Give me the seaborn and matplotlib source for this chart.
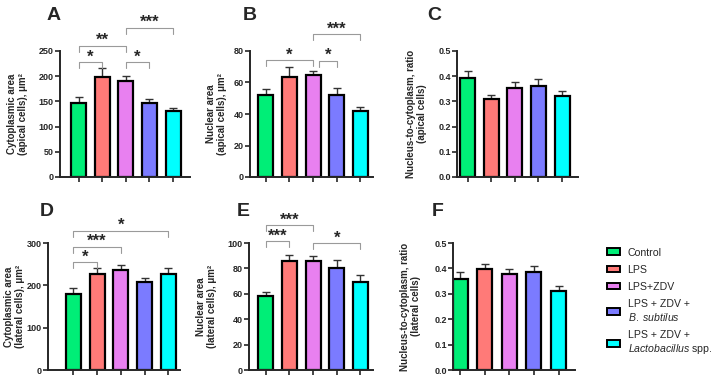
import numpy as np
import pandas as pd
import matplotlib
matplotlib.use("Agg")
import matplotlib.pyplot as plt
from matplotlib.patches import Patch
import seaborn as sns

sns.set_style("ticks")
plt.rcParams["font.family"] = ["Liberation Sans", "DejaVu Sans"]
plt.rcParams["mathtext.fontset"] = "custom"
plt.rcParams["mathtext.rm"] = "Liberation Sans"
plt.rcParams["mathtext.it"] = "Liberation Sans:italic"

# Grupos y colores
grupos = ["Control", "LPS", "LPS+ZDV", "LPS + ZDV + B. subtilus", "LPS + ZDV + Lactobacillus spp."]
etiquetas_leyenda = ["Control", "LPS", "LPS+ZDV",
                     "LPS + ZDV +\n$\\mathit{B.\\ subtilus}$",
                     "LPS + ZDV +\n$\\mathit{Lactobacillus}$ spp."]
colores = ["#00EE77", "#FF7A78", "#E880F0", "#7B7BFF", "#00FFFF"]

# Medias y error (solo hacia arriba)
a_media = [147.5, 198, 191, 146, 130]
a_sem = [11.5, 17.5, 10, 9, 7.5]
b_media = [52.3, 63.3, 64.6, 51.9, 41.9]
b_sem = [3.6, 6.7, 2.7, 4.4, 2.8]
c_media = [0.392, 0.308, 0.354, 0.360, 0.321]
c_sem = [0.029, 0.016, 0.022, 0.030, 0.019]
d_media = [179, 227, 236.5, 208, 227]
d_sem = [15, 15, 10.5, 10, 13]
e_media = [58.2, 86.2, 86.2, 80.2, 69.6]
e_sem = [3.4, 4.5, 3.8, 6.6, 5.3]
f_media = [0.360, 0.396, 0.376, 0.384, 0.312]
f_sem = [0.024, 0.023, 0.020, 0.025, 0.018]

# Significancia: (grupo inicio, grupo fin, altura, texto)
a_sig = [(0, 1, 228, "*"), (0, 2, 260, "**"), (2, 3, 228, "*"), (2, 4, 296, "***")]
b_sig = [(0, 2, 74.3, "*"), (2.25, 3, 73.7, "*"), (2, 4, 90.8, "***")]
d_sig = [(0, 1, 254.5, "*"), (0, 2, 291, "***"), (0, 4, 329, "*")]
e_sig = [(0, 1, 101.5, "***"), (0, 2, 113.8, "***"), (2, 4, 99.9, "*")]

ylabels = ["Cytoplasmic area\n(apical cells), μm²",
           "Nuclear area\n(apical cells), μm²",
           "Nucleus-to-cytoplasm, ratio\n(apical cells)",
           "Cytoplasmic area\n(lateral cells), μm²",
           "Nuclear area\n(lateral cells), μm²",
           "Nucleus-to-cytoplasm, ratio\n(lateral cells)"]
letras = ["A", "B", "C", "D", "E", "F"]

W, H = 715, 383
fig = plt.figure(figsize=(W / 100, H / 100), dpi=100)

# layout en pixeles: eje y, centro barra 1, centro barra 5, fin eje x, arriba, abajo, borde label, letra x, letra y
layout = [
    (60, 78.5, 173, 190, 51, 177, 28, 47, 16),
    (250, 265.5, 360.5, 373, 51, 177, 227, 243, 16),
    (457, 467.5, 562, 578, 51, 177, 427, 427, 16),
    (48, 73.3, 168.3, 180, 243, 370, 25, 40, 211),
    (249, 265.5, 360.5, 373, 243, 370, 217, 237, 211),
    (453, 460, 558.5, 575, 243, 370, 421, 432, 211),
]
medias = [a_media, b_media, c_media, d_media, e_media, f_media]
sems = [a_sem, b_sem, c_sem, d_sem, e_sem, f_sem]
sigs = [a_sig, b_sig, [], d_sig, e_sig, []]
ylims = [(0, 250, 50), (0, 80, 20), (0, 0.5, 0.1), (0, 300, 100), (0, 100, 20), (0, 0.5, 0.1)]


def corchete(ax, x1, x2, y, caida, texto):
    ax.plot([x1, x1, x2, x2], [y - caida, y, y, y - caida], color="#9a9a9a",
            lw=0.8, clip_on=False)
    ax.annotate(texto, ((x1 + x2) / 2, y), xytext=(0, 0.5), textcoords="offset points",
                ha="center", va="baseline", fontsize=12, fontweight="bold",
                annotation_clip=False)


for i in range(6):
    spine, c0, c4, fin, top, bot, labx, lx, ly = layout[i]
    s = (c4 - c0) / 4
    ax = fig.add_axes([spine / W, 1 - bot / H, (fin - spine) / W, (bot - top) / H])
    df = pd.DataFrame({"grupo": grupos, "valor": medias[i]})
    sns.barplot(data=df, x="grupo", y="valor", hue="grupo", palette=colores,
                order=grupos, hue_order=grupos, width=15 / s, errorbar=None,
                saturation=1, edgecolor="black", linewidth=1.6, legend=False,
                ax=ax, zorder=2)
    ax.errorbar(range(5), medias[i], yerr=[np.zeros(5), sems[i]], fmt="none",
                ecolor="#333333", elinewidth=1, capsize=2.6, capthick=1, zorder=1)
    ax.set_xlim(-(c0 - spine) / s, 4 + (fin - c4) / s)
    y0, y1, paso = ylims[i]
    ax.set_ylim(y0, y1)
    ax.set_yticks(np.arange(y0, y1 + paso / 2, paso))
    if paso < 1:
        ax.set_yticklabels([f"{v:.1f}" for v in np.arange(y0, y1 + paso / 2, paso)])
    ax.set_xticks(range(5))
    ax.set_xticklabels([])
    ax.set_xlabel("")
    ax.set_ylabel(ylabels[i], fontsize=7, fontweight="bold", linespacing=1.1)
    ax.yaxis.set_label_coords((labx - spine) / (fin - spine), 0.5)
    ax.tick_params(axis="both", length=3.5, width=1.2, labelsize=6.5, pad=1)
    for lab in ax.get_yticklabels():
        lab.set_fontweight("bold")
    for lado in ["top", "right"]:
        ax.spines[lado].set_visible(False)
    for lado in ["left", "bottom"]:
        ax.spines[lado].set_linewidth(1.4)
    for x1, x2, y, texto in sigs[i]:
        corchete(ax, x1, x2, y, (y1 - y0) * 0.046, texto)
    fig.text(lx / W, 1 - ly / H, letras[i], fontsize=14, fontweight="bold",
             ha="left", va="center")

handles = [Patch(facecolor=c, edgecolor="black", linewidth=1.4) for c in colores]
fig.legend(handles, etiquetas_leyenda, loc="upper left",
           bbox_to_anchor=(597 / W, 1 - 238 / H), frameon=False, fontsize=7.6,
           handlelength=1.3, handleheight=0.6, handletextpad=0.7, labelspacing=0.68)

fig.savefig("out.png", dpi=100)
